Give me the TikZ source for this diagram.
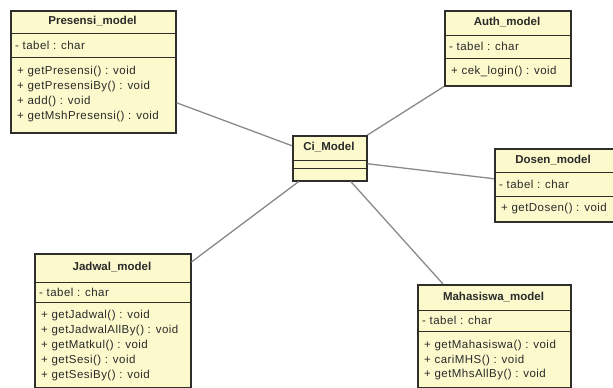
\documentclass[tikz,border=0pt]{standalone}
\usepackage{fontspec}
\setmainfont{Liberation Sans}
\definecolor{boxfill}{HTML}{FCFACC}
\definecolor{boxborder}{HTML}{2E2E2A}
\definecolor{linegray}{HTML}{8A8A8A}
\definecolor{textcol}{HTML}{2A2A2A}
\begin{document}
\begin{tikzpicture}[x=1pt,y=-1pt,
  classbox/.style={draw=boxborder, fill=boxfill, line width=1.5pt, rectangle, inner sep=0pt, anchor=north west},
  sepline/.style={draw=boxborder, line width=0.9pt},
  hdr/.style={font=\bfseries\fontsize{11.5}{13}\selectfont, text=textcol, inner sep=0pt},
  mem/.style={font=\fontsize{11.5}{13}\selectfont\addfontfeature{LetterSpace=4}, text=textcol, anchor=west, inner sep=0pt},
  link/.style={draw=linegray, line width=1.3pt}]
\useasboundingbox (0,0) rectangle (613,388);
\fill[white] (0,0) rectangle (613,388);

% Presensi_model
\node[classbox, minimum width=165pt, minimum height=122pt] (presensi) at (10,10) {};
\draw[sepline] ([yshift=-23pt]presensi.north west) -- ([yshift=-23pt]presensi.north east);
\draw[sepline] ([yshift=-47pt]presensi.north west) -- ([yshift=-47pt]presensi.north east);
\node[hdr] (presensiH) at (92.5,21.5) {Presensi\_model};
\node[mem] (presensiA) at (15,45) {- tabel : char};
\node[mem] (presensiO1) at (17,72) {+ getPresensi() : void};
\node[mem] (presensiO2) at (17,87) {+ getPresensiBy() : void};
\node[mem] (presensiO3) at (17,102) {+ add() : void};
\node[mem] (presensiO4) at (17,117) {+ getMshPresensi() : void};

% Auth_model
\node[classbox, minimum width=126pt, minimum height=75pt] (auth) at (444,10) {};
\draw[sepline] ([yshift=-25pt]auth.north west) -- ([yshift=-25pt]auth.north east);
\draw[sepline] ([yshift=-48pt]auth.north west) -- ([yshift=-48pt]auth.north east);
\node[hdr] (authH) at (507,22.5) {Auth\_model};
\node[mem] (authA) at (449,46.5) {- tabel : char};
\node[mem] (authO1) at (451,71.5) {+ cek\_login() : void};

% Ci_Model
\node[classbox, minimum width=74pt, minimum height=45pt] (ci) at (292,135) {};
\draw[sepline] ([yshift=-25pt]ci.north west) -- ([yshift=-25pt]ci.north east);
\draw[sepline] ([yshift=-33pt]ci.north west) -- ([yshift=-33pt]ci.north east);
\node[hdr] (ciH) at (329,147.5) {Ci\_Model};

% Dosen_model
\node[classbox, minimum width=121pt, minimum height=73pt] (dosen) at (494,148) {};
\draw[sepline] ([yshift=-24pt]dosen.north west) -- ([yshift=-24pt]dosen.north east);
\draw[sepline] ([yshift=-48pt]dosen.north west) -- ([yshift=-48pt]dosen.north east);
\node[hdr] (dosenH) at (553,160) {Dosen\_model};
\node[mem] (dosenA) at (499,184) {- tabel : char};
\node[mem] (dosenO1) at (501,208.5) {+ getDosen() : void};

% Jadwal_model
\node[classbox, minimum width=156pt, minimum height=134pt] (jadwal) at (34,253) {};
\draw[sepline] ([yshift=-29pt]jadwal.north west) -- ([yshift=-29pt]jadwal.north east);
\draw[sepline] ([yshift=-49pt]jadwal.north west) -- ([yshift=-49pt]jadwal.north east);
\node[hdr] (jadwalH) at (112,267.5) {Jadwal\_model};
\node[mem] (jadwalA) at (39,292) {- tabel : char};
\node[mem] (jadwalO1) at (41,316) {+ getJadwal() : void};
\node[mem] (jadwalO2) at (41,331) {+ getJadwalAllBy() : void};
\node[mem] (jadwalO3) at (41,346) {+ getMatkul() : void};
\node[mem] (jadwalO4) at (41,361) {+ getSesi() : void};
\node[mem] (jadwalO5) at (41,376) {+ getSesiBy() : void};

% Mahasiswa_model
\node[classbox, minimum width=153pt, minimum height=103pt] (mhs) at (417,284) {};
\draw[sepline] ([yshift=-26pt]mhs.north west) -- ([yshift=-26pt]mhs.north east);
\draw[sepline] ([yshift=-47pt]mhs.north west) -- ([yshift=-47pt]mhs.north east);
\node[hdr] (mhsH) at (493.5,297) {Mahasiswa\_model};
\node[mem] (mhsA) at (422,320.5) {- tabel : char};
\node[mem] (mhsO1) at (424,346) {+ getMahasiswa() : void};
\node[mem] (mhsO2) at (424,361) {+ cariMHS() : void};
\node[mem] (mhsO3) at (424,375) {+ getMhsAllBy() : void};

% connectors
\draw[link] ([yshift=-31pt]presensi.east) -- ([yshift=12.5pt]ci.west);
\draw[link] (auth.south west) -- (ci.north east);
\draw[link] ([yshift=-5.5pt]ci.east) -- ([yshift=6.5pt]dosen.west);
\draw[link] ([xshift=-31pt]ci.south) -- ([yshift=-9pt]jadwal.north east);
\draw[link] ([xshift=21pt]ci.south) -- ([xshift=26pt]mhs.north west);
\end{tikzpicture}
\end{document}
